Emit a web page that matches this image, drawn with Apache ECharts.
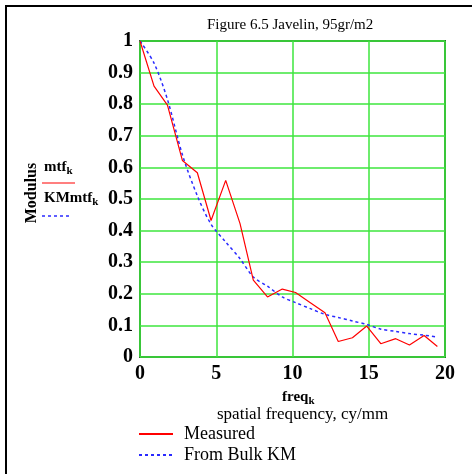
<!DOCTYPE html>
<html>
<head>
<meta charset="utf-8">
<script src="https://cdn.jsdelivr.net/npm/echarts@6/dist/echarts.min.js"></script>
<style>
html, body { margin: 0; padding: 0; background: #fff; }
#chart { width: 472px; height: 474px; }
</style>
</head>
<body>
<div id="chart"></div>
<script>
// 空间频率 cy/mm
const freq = [0, 0.92, 1.8, 2.78, 3.76, 4.66, 5.62, 6.56, 7.43, 8.36, 9.33, 10.2, 11.17, 12.13, 13.0, 13.93, 14.87, 15.79, 16.77, 17.67, 18.63, 19.5];
// 实测 MTF
const measured = [1.0, 0.857, 0.797, 0.622, 0.583, 0.432, 0.559, 0.422, 0.243, 0.19, 0.215, 0.204, 0.172, 0.14, 0.049, 0.061, 0.098, 0.042, 0.058, 0.038, 0.068, 0.033];
// Bulk KM 模型
const bulkKM = [1.0, 0.93, 0.815, 0.64, 0.51, 0.42, 0.364, 0.311, 0.253, 0.224, 0.19, 0.172, 0.153, 0.135, 0.125, 0.114, 0.103, 0.088, 0.081, 0.074, 0.069, 0.063];

const seriesNames = ['Measured', 'From Bulk KM'];
const xTicks = [0, 20, 5];     // min, max, interval
const yTicks = [0, 1, 0.1];

const serif = '"Liberation Serif", "DejaVu Serif", serif';
const gridGreen = '#3ee63e';

function drawChart() {
    var dom = document.getElementById('chart');
    var myChart = echarts.init(dom, null, { renderer: 'canvas' });

    var option = {
        animation: false,
        backgroundColor: '#fff',
        grid: {
            left: 140, top: 41, right: 27, bottom: 117,
            show: true,
            borderColor: '#2f6a2f',
            borderWidth: 2
        },
        xAxis: {
            type: 'value',
            min: xTicks[0], max: xTicks[1], interval: xTicks[2],
            axisLine: { show: false },
            axisTick: { show: false },
            splitLine: { show: true, lineStyle: { color: gridGreen, width: 1.5 } },
            axisLabel: {
                margin: 7,
                color: '#000',
                fontFamily: serif,
                fontWeight: 'bold',
                fontSize: 20
            }
        },
        yAxis: {
            type: 'value',
            min: yTicks[0], max: yTicks[1], interval: yTicks[2],
            axisLine: { show: false },
            axisTick: { show: false },
            splitLine: { show: true, lineStyle: { color: gridGreen, width: 1.5 } },
            axisLabel: {
                margin: 7,
                color: '#000',
                fontFamily: serif,
                fontWeight: 'bold',
                fontSize: 20,
                formatter: function (v) { return String(+v.toFixed(1)); }
            }
        },
        legend: {
            orient: 'vertical',
            left: 133, top: 420,
            itemWidth: 34, itemHeight: 14, itemGap: 3,
            data: seriesNames,
            itemStyle: { opacity: 0 },
            textStyle: { fontFamily: serif, fontSize: 18, color: '#000', padding: [0, 0, 0, 6] }
        },
        series: [
            {
                name: seriesNames[0],
                type: 'line',
                symbol: 'none',
                data: freq.map(function (f, i) { return [f, measured[i]]; }),
                lineStyle: { color: '#ff0000', width: 1.2 },
                itemStyle: { color: '#ff0000' },
                z: 3
            },
            {
                name: seriesNames[1],
                type: 'line',
                symbol: 'none',
                smooth: 0.3,
                data: freq.map(function (f, i) { return [f, bulkKM[i]]; }),
                lineStyle: { color: '#2a2aff', width: 1.5, type: [3, 3] },
                itemStyle: { color: '#2a2aff' },
                z: 2
            }
        ],
        graphic: [
            // 外框
            { type: 'rect', shape: { x: 6, y: 6, width: 600, height: 600 }, style: { fill: 'none', stroke: '#000', lineWidth: 2 } },
            {
                type: 'text', left: 207, top: 18,
                style: { text: 'Figure 6.5 Javelin, 95gr/m2', font: '15px ' + serif, fill: '#000' }
            },
            {
                type: 'text', x: 32, y: 193, rotation: Math.PI / 2,
                style: { text: 'Modulus', font: 'bold 16px ' + serif, fill: '#000', align: 'center', verticalAlign: 'middle' }
            },
            {
                type: 'text', left: 44, top: 160,
                style: {
                    text: '{a|mtf}{s|k}',
                    rich: {
                        a: { font: 'bold 15px ' + serif, fill: '#000' },
                        s: { font: 'bold 11px ' + serif, fill: '#000', padding: [8, 0, 0, 0] }
                    }
                }
            },
            { type: 'line', shape: { x1: 42, y1: 183, x2: 75, y2: 183 }, style: { stroke: '#ff0000', lineWidth: 1.2 } },
            {
                type: 'text', left: 44, top: 191,
                style: {
                    text: '{a|KMmtf}{s|k}',
                    rich: {
                        a: { font: 'bold 15px ' + serif, fill: '#000' },
                        s: { font: 'bold 11px ' + serif, fill: '#000', padding: [8, 0, 0, 0] }
                    }
                }
            },
            { type: 'line', shape: { x1: 42, y1: 216, x2: 72, y2: 216 }, style: { stroke: '#2a2aff', lineWidth: 1.5, lineDash: [3, 3] } },
            {
                type: 'text', left: 282, top: 390,
                style: {
                    text: '{a|freq}{s|k}',
                    rich: {
                        a: { font: 'bold 15px ' + serif, fill: '#000' },
                        s: { font: 'bold 11px ' + serif, fill: '#000', padding: [8, 0, 0, 0] }
                    }
                }
            },
            {
                type: 'text', left: 217, top: 406,
                style: { text: 'spatial frequency, cy/mm', font: '17px ' + serif, fill: '#000' }
            }
        ]
    };

    myChart.setOption(option);
    window.addEventListener('resize', myChart.resize);
}

drawChart();
</script>
</body>
</html>
